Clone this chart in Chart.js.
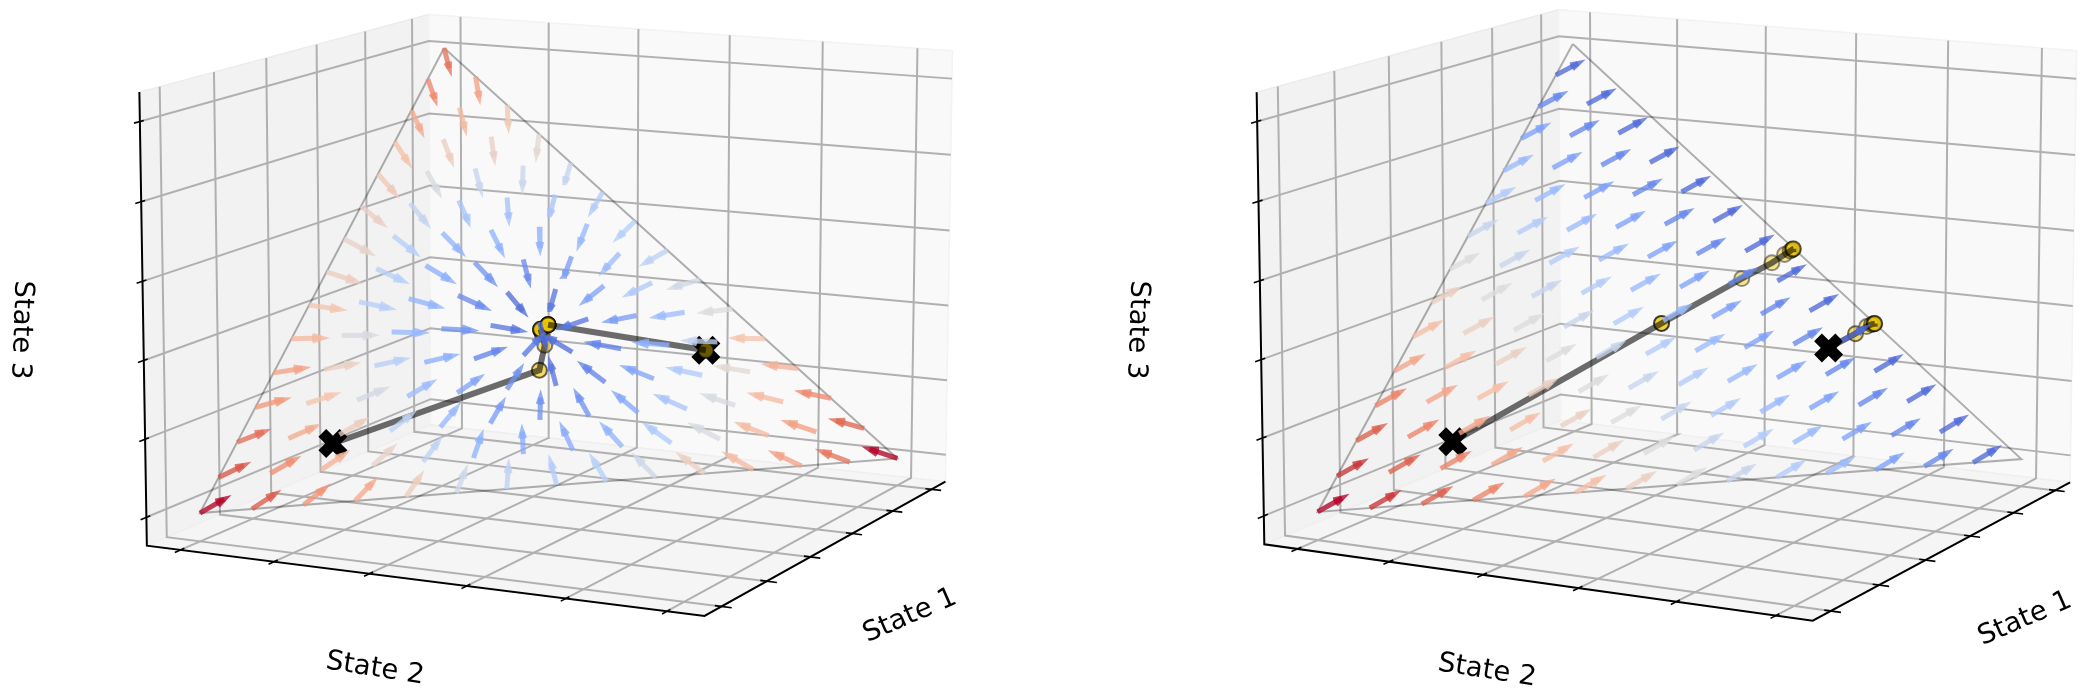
<!DOCTYPE html>
<html>
<head>
<meta charset="utf-8">
<title>State flow</title>
<script src="https://cdn.jsdelivr.net/npm/chart.js@4"></script>
<style>
  html, body { margin: 0; background: #fff; }
  canvas { position: absolute; top: 0; }
</style>
</head>
<body>
<canvas id="left" width="1043" height="698" style="left:0"></canvas>
<canvas id="right" width="1043" height="698" style="left:1043px"></canvas>
<script>
// grid of the simplex, state values are in 1/14ths
const gridSteps = 14;
const tickValues = [0, 0.2, 0.4, 0.6, 0.8, 1];
const axisLabels = ['State 1', 'State 2', 'State 3'];

// left panel: arrows
const tailAState1 = [
  0,
  0,1,
  0,1,2,
  0,1,2,3,
  0,1,2,3,4,
  0,1,2,3,4,5,
  0,1,2,3,4,5,6,
  0,1,2,3,4,5,6,7,
  0,1,2,3,4,5,6,7,8,
  0,1,2,3,4,5,6,7,8,9,
  0,1,2,3,4,5,6,7,8,9,10,
  0,1,2,3,4,5,6,7,8,9,10,11,
  0,1,2,3,4,5,6,7,8,9,10,11,12,
  0,1,2,3,4,5,6,7,8,9,10,11,12,13,
  0,1,2,3,4,5,6,7,8,9,10,11,12,13,14
];
const tailAState2 = [
  0,
  1,0,
  2,1,0,
  3,2,1,0,
  4,3,2,1,0,
  5,4,3,2,1,0,
  6,5,4,3,2,1,0,
  7,6,5,4,3,2,1,0,
  8,7,6,5,4,3,2,1,0,
  9,8,7,6,5,4,3,2,1,0,
  10,9,8,7,6,5,4,3,2,1,0,
  11,10,9,8,7,6,5,4,3,2,1,0,
  12,11,10,9,8,7,6,5,4,3,2,1,0,
  13,12,11,10,9,8,7,6,5,4,3,2,1,0,
  14,13,12,11,10,9,8,7,6,5,4,3,2,1,0
];
const stepAState1 = [
  .34,
  .38,.30,
  .43,.34,.25,
  .49,.40,.29,.17,
  .55,.46,.34,.21,.08,
  .61,.54,.42,.26,.10,-.04,
  .67,.58,.44,.24,.04,-.06,-.19,
  .69,.66,.57,.34,.05,-.16,-.25,-.34,
  .67,.68,.68,.54,.09,-.25,-.38,-.43,-.48,
  .61,.63,.64,.67,.34,-.45,-.53,-.55,-.56,-.57,
  .55,.54,.51,.45,.16,-.66,-.68,-.65,-.65,-.64,-.63,
  .49,.46,.42,.29,.07,-.34,-.63,-.68,-.69,-.68,-.67,-.66,
  .43,.40,.34,.26,.04,-.21,-.46,-.61,-.65,-.68,-.69,-.68,-.68,
  .38,.34,.29,.21,.10,-.06,-.25,-.43,-.56,-.64,-.67,-.68,-.69,-.68,
  .34,.30,.25,.17,.08,-.04,-.19,-.34,-.48,-.57,-.63,-.66,-.68,-.68,-.69
];
const stepAState2 = [
  .34,
  .30,.38,
  .25,.34,.43,
  .17,.29,.40,.49,
  .08,.21,.34,.46,.55,
  -.04,.10,.26,.42,.54,.61,
  -.19,.04,.24,.44,.58,.62,.67,
  -.34,-.16,.05,.34,.57,.66,.68,.69,
  -.48,-.38,-.25,.09,.54,.68,.68,.68,.67,
  -.57,-.55,-.53,-.45,.34,.67,.64,.63,.62,.61,
  -.63,-.64,-.65,-.68,-.66,.16,.45,.51,.52,.54,.55,
  -.66,-.67,-.68,-.68,-.62,-.34,.07,.29,.34,.42,.46,.49,
  -.68,-.68,-.69,-.68,-.61,-.46,-.21,.04,.13,.26,.34,.40,.43,
  -.68,-.69,-.68,-.67,-.64,-.56,-.43,-.25,-.06,.10,.21,.29,.34,.38,
  -.69,-.68,-.68,-.66,-.63,-.57,-.48,-.34,-.19,-.04,.08,.17,.25,.30,.34
];
const levelA = [
  .82,
  .72,.78,
  .60,.66,.70,
  .53,.56,.58,.63,
  .42,.44,.43,.48,.60,
  .36,.33,.32,.33,.42,.56,
  .37,.28,.25,.26,.27,.37,.55,
  .40,.30,.20,.15,.18,.25,.38,.58,
  .46,.35,.22,.10,.08,.15,.27,.38,.62,
  .50,.30,.20,.10,.07,.10,.18,.28,.48,.66,
  .62,.42,.25,.13,.08,.10,.13,.25,.38,.57,.72,
  .68,.52,.35,.22,.13,.10,.17,.22,.30,.47,.62,.75,
  .78,.65,.48,.33,.23,.17,.17,.20,.28,.40,.58,.70,.83,
  .85,.73,.65,.48,.35,.27,.24,.24,.26,.40,.55,.67,.77,.88,
  1,.82,.72,.65,.57,.45,.38,.36,.40,.45,.58,.70,.76,.87,1
];

// right panel: arrows, all with the same step
const tailBState1 = [
  1,
  1,2,
  1,2,3,
  1,2,3,4,
  1,2,3,4,5,
  1,2,3,4,5,6,
  1,2,3,4,5,6,7,
  1,2,3,4,5,6,7,8,
  1,2,3,4,5,6,7,8,9,
  1,2,3,4,5,6,7,8,9,10,
  1,2,3,4,5,6,7,8,9,10,11,
  1,2,3,4,5,6,7,8,9,10,11,12,
  1,2,3,4,5,6,7,8,9,10,11,12,13,
  1,2,3,4,5,6,7,8,9,10,11,12,13,14
];
const tailBState2 = [
  0,
  1,0,
  2,1,0,
  3,2,1,0,
  4,3,2,1,0,
  5,4,3,2,1,0,
  6,5,4,3,2,1,0,
  7,6,5,4,3,2,1,0,
  8,7,6,5,4,3,2,1,0,
  9,8,7,6,5,4,3,2,1,0,
  10,9,8,7,6,5,4,3,2,1,0,
  11,10,9,8,7,6,5,4,3,2,1,0,
  12,11,10,9,8,7,6,5,4,3,2,1,0,
  13,12,11,10,9,8,7,6,5,4,3,2,1,0
];
const stepB = [-.69, .34, .34];
const levelB = [
  .07,
  .07,.14,
  .07,.14,.21,
  .07,.14,.21,.29,
  .07,.14,.21,.29,.36,
  .07,.14,.21,.29,.36,.43,
  .07,.14,.21,.29,.36,.43,.50,
  .07,.14,.21,.29,.36,.43,.50,.57,
  .07,.14,.21,.29,.36,.43,.50,.57,.64,
  .07,.14,.21,.29,.36,.43,.50,.57,.64,.71,
  .07,.14,.21,.29,.36,.43,.50,.57,.64,.71,.79,
  .07,.14,.21,.29,.36,.43,.50,.57,.64,.71,.79,.86,
  .07,.14,.21,.29,.36,.43,.50,.57,.64,.71,.79,.86,.93,
  .07,.14,.21,.29,.36,.43,.50,.57,.64,.71,.79,.86,.93,1
];

// trajectories
const runA1State1 = [.735, .357, .313, .30, .297, .295, .295, .295];
const runA1State2 = [.14, .392, .382, .37, .366, .364, .364, .364];
const runA2State1 = [.1, .278, .278, .278, .278, .278];
const runA2State2 = [.631, .372, .372, .372, .372, .372];
const runB1State1 = [.734, .292, .117, .052, .022, .009, .004, .002, .001];
const runB1State2 = [.14, .357, .444, .478, .491, .497, .499, .5, .5];
const runB2State1 = [.1, .042, .016, .006, .002, .001, .0005];
const runB2State2 = [.6275, .658, .67, .676, .679, .68, .68];

const dotAlphaA1 = [0, .6, .5, .5, .5, .5, .5, .5];
const dotAlphaA2 = [.45, .5, .5, .5, .5, .5];
const dotAlphaB1 = [0, .75, .42, .42, .42, .45, .45, .45, .45];
const dotAlphaB2 = [0, .55, .45, .5, .5, .5, .5];

// box limits of the 3d axes
const lo = -0.073, hi = 1.073;

// screen positions of the box corners and simplex vertices, used to fit the camera
function calibration(c) {
  return [
    [[hi, lo, hi], c.aTop], [[hi, lo, lo], c.aBot], [[lo, lo, hi], c.bTop], [[lo, lo, lo], c.bBot],
    [[lo, hi, hi], c.cTop], [[lo, hi, lo], c.cBot], [[hi, hi, lo], c.d],
    [[0, 0, 1], c.t], [[1, 0, 0], c.l], [[0, 1, 0], c.r]
  ];
}
const cameraA = fitCamera(calibration({
  aTop: [139.7, 91.7], aBot: [146.7, 546.7], bTop: [428.3, 15], bBot: [431, 424],
  cTop: [952.7, 50.7], cBot: [946, 481.7], d: [704.3, 615.3],
  t: [444, 48], l: [200, 513], r: [896.7, 459]
}));
const cameraB = fitCamera(calibration({
  aTop: [1256.7, 91.7], aBot: [1264.3, 544.7], bTop: [1558.3, 10], bBot: [1560.5, 420],
  cTop: [2076.7, 51], cBot: [2070.7, 482.3], d: [1812.3, 620.7],
  t: [1573, 44], l: [1318, 512], r: [2021, 459]
}));

// least squares for the 3x4 projection, last entry fixed at 1
function fitCamera(pairs) {
  const rows = [], rhs = [];
  pairs.forEach(([p, s]) => {
    const u = s[0] / 1000, v = s[1] / 1000;
    rows.push([p[0], p[1], p[2], 1, 0, 0, 0, 0, -u * p[0], -u * p[1], -u * p[2]]); rhs.push(u);
    rows.push([0, 0, 0, 0, p[0], p[1], p[2], 1, -v * p[0], -v * p[1], -v * p[2]]); rhs.push(v);
  });
  const n = 11;
  const m = [];
  for (let i = 0; i < n; i++) {
    m.push([]);
    for (let j = 0; j < n; j++) {
      let sum = 0;
      rows.forEach(r => { sum += r[i] * r[j]; });
      m[i].push(sum);
    }
    let b = 0;
    rows.forEach((r, k) => { b += r[i] * rhs[k]; });
    m[i].push(b);
  }
  for (let i = 0; i < n; i++) {
    let best = i;
    for (let k = i + 1; k < n; k++) if (Math.abs(m[k][i]) > Math.abs(m[best][i])) best = k;
    [m[i], m[best]] = [m[best], m[i]];
    for (let k = 0; k < n; k++) {
      if (k === i) continue;
      const f = m[k][i] / m[i][i];
      for (let j = i; j <= n; j++) m[k][j] -= f * m[i][j];
    }
  }
  return m.map((r, i) => r[n] / r[i]);
}

function project(cam, s) {
  const w = cam[8] * s[0] + cam[9] * s[1] + cam[10] * s[2] + 1;
  return {
    x: 1000 * (cam[0] * s[0] + cam[1] * s[1] + cam[2] * s[2] + cam[3]) / w,
    y: 1000 * (cam[4] * s[0] + cam[5] * s[1] + cam[6] * s[2] + cam[7]) / w
  };
}

// coolwarm colormap
const coolwarm = [[59,76,192],[98,130,234],[141,176,254],[184,208,249],[221,220,220],[245,196,173],[244,152,122],[218,90,72],[180,4,38]];
function levelColor(t, alpha) {
  const f = Math.min(t, 0.9999) * (coolwarm.length - 1);
  const i = Math.floor(f), r = f - i;
  const c = coolwarm[i].map((v, k) => Math.round(v + (coolwarm[i + 1][k] - v) * r));
  return `rgba(${c[0]},${c[1]},${c[2]},${alpha})`;
}

function lineSet(points, color, width, extra) {
  return Object.assign({
    data: points, showLine: true, borderColor: color, borderWidth: width,
    pointRadius: 0, fill: false, tension: 0, clip: false
  }, extra || {});
}

function buildDatasets(cam, arrows, runs) {
  const sets = [];
  const P = s => project(cam, s);
  // panes
  const pane = (corners, fillColor, edgeColor) => sets.push(lineSet(corners.map(P), edgeColor, 1.5, { fill: 'shape', backgroundColor: fillColor }));
  pane([[hi,lo,hi],[hi,lo,lo],[lo,lo,lo],[lo,lo,hi],[hi,lo,hi]], '#f2f2f2', '#ececec');
  pane([[lo,lo,hi],[lo,lo,lo],[lo,hi,lo],[lo,hi,hi],[lo,lo,hi]], '#f9f9f9', '#f3f3f3');
  pane([[hi,lo,lo],[lo,lo,lo],[lo,hi,lo],[hi,hi,lo],[hi,lo,lo]], '#f5f5f5', '#efefef');
  // grid
  const grid = '#b0b0b0', gw = 2;
  tickValues.forEach(t => {
    sets.push(lineSet([[t,hi,lo],[t,lo,lo],[t,lo,hi]].map(P), grid, gw));
    sets.push(lineSet([[hi,t,lo],[lo,t,lo],[lo,t,hi]].map(P), grid, gw));
    sets.push(lineSet([[hi,lo,t],[lo,lo,t],[lo,hi,t]].map(P), grid, gw));
  });
  // axis edges and ticks
  sets.push(lineSet([[hi,lo,hi],[hi,lo,lo],[hi,hi,lo],[lo,hi,lo]].map(P), '#000', 2));
  tickValues.forEach(t => {
    sets.push(lineSet([[hi+.021,lo,t],[hi-.014,lo,t]].map(P), '#000', 1.6));
    sets.push(lineSet([[hi+.021,t,lo],[hi-.014,t,lo]].map(P), '#000', 1.6));
    sets.push(lineSet([[t,hi+.02,lo],[t,hi-.013,lo]].map(P), '#000', 1.6));
  });
  // simplex outline
  sets.push(lineSet([[0,0,1],[1,0,0],[0,1,0],[0,0,1]].map(P), 'rgba(0,0,0,0.3)', 2));
  // start markers
  sets.push({
    data: runs.map(r => P([r.s1[0], r.s2[0], 1 - r.s1[0] - r.s2[0]])), showLine: false, clip: false,
    pointStyle: 'crossRot', pointRadius: 15, pointBorderWidth: 11, pointBorderColor: '#000', pointBackgroundColor: '#000'
  });
  // trajectories, dots first and the line above them
  runs.forEach(r => {
    const pts = r.s1.map((v, i) => P([v, r.s2[i], 1 - v - r.s2[i]]));
    sets.push({
      data: pts, showLine: false, clip: false, pointRadius: 7.5, pointBorderWidth: 2,
      pointBackgroundColor: r.alpha.map(a => `rgba(235,195,0,${a})`),
      pointBorderColor: r.alpha.map(a => `rgba(0,0,0,${a})`)
    });
  });
  runs.forEach(r => {
    const pts = r.s1.map((v, i) => P([v, r.s2[i], 1 - v - r.s2[i]]));
    sets.push(lineSet(pts, 'rgba(0,0,0,0.57)', 6));
  });
  // arrows
  arrows.forEach(a => {
    const tail = P([a.a / gridSteps, a.b / gridSteps, (gridSteps - a.a - a.b) / gridSteps]);
    const ta = (a.a + a.da) / gridSteps, tb = (a.b + a.db) / gridSteps;
    const tip = P([ta, tb, 1 - ta - tb]);
    const dx = tail.x - tip.x, dy = tail.y - tip.y;
    const wing = sign => {
      const c = Math.cos(sign * 0.3), s = Math.sin(sign * 0.3);
      return { x: tip.x + 0.32 * (c * dx - s * dy), y: tip.y + 0.32 * (s * dx + c * dy) };
    };
    const col = levelColor(a.level, 0.78);
    sets.push(lineSet([tail, tip], col, 5));
    sets.push(lineSet([wing(1), tip, wing(-1)], col, 5));
  });
  // first entry is drawn on top in chart.js
  return sets.reverse();
}

function labelPlugin(items) {
  return {
    id: 'stateLabels',
    afterDraw(chart) {
      const ctx = chart.ctx;
      items.forEach(it => {
        const p = { x: chart.scales.x.getPixelForValue(it.x), y: chart.scales.y.getPixelForValue(it.y) };
        ctx.save();
        ctx.translate(p.x, p.y);
        ctx.rotate(it.rot * Math.PI / 180);
        ctx.font = '27.5px "DejaVu Sans"';
        ctx.fillStyle = '#000';
        ctx.textAlign = 'center';
        ctx.textBaseline = 'middle';
        ctx.fillText(it.text, 0, 0);
        ctx.restore();
      });
    }
  };
}

function makeChart(id, xMin, xMax, datasets, labels) {
  return new Chart(document.getElementById(id), {
    type: 'scatter',
    data: { datasets: datasets },
    options: {
      responsive: false,
      animation: false,
      layout: { padding: 0, autoPadding: false },
      plugins: { legend: { display: false }, tooltip: { enabled: false }, title: { display: false } },
      scales: {
        x: { type: 'linear', display: false, min: xMin, max: xMax },
        y: { type: 'linear', display: false, min: 0, max: 698, reverse: true }
      }
    },
    plugins: [labelPlugin(labels)]
  });
}

const arrowsA = tailAState1.map((a, i) => ({ a: a, b: tailAState2[i], da: stepAState1[i], db: stepAState2[i], level: levelA[i] }));
const arrowsB = tailBState1.map((a, i) => ({ a: a, b: tailBState2[i], da: stepB[0], db: stepB[1], level: levelB[i] }));

makeChart('left', 0, 1043, buildDatasets(cameraA, arrowsA, [
  { s1: runA1State1, s2: runA1State2, alpha: dotAlphaA1 },
  { s1: runA2State1, s2: runA2State2, alpha: dotAlphaA2 }
]), [
  { text: axisLabels[0], x: 910, y: 616, rot: -23.6 },
  { text: axisLabels[1], x: 375, y: 669, rot: 9 },
  { text: axisLabels[2], x: 21, y: 330, rot: 92 }
]);
makeChart('right', 1043, 2086, buildDatasets(cameraB, arrowsB, [
  { s1: runB1State1, s2: runB1State2, alpha: dotAlphaB1 },
  { s1: runB2State1, s2: runB2State2, alpha: dotAlphaB2 }
]), [
  { text: axisLabels[0], x: 2025, y: 619, rot: -23.6 },
  { text: axisLabels[1], x: 1487, y: 671, rot: 9 },
  { text: axisLabels[2], x: 1137, y: 330, rot: 92 }
]);
</script>
</body>
</html>
